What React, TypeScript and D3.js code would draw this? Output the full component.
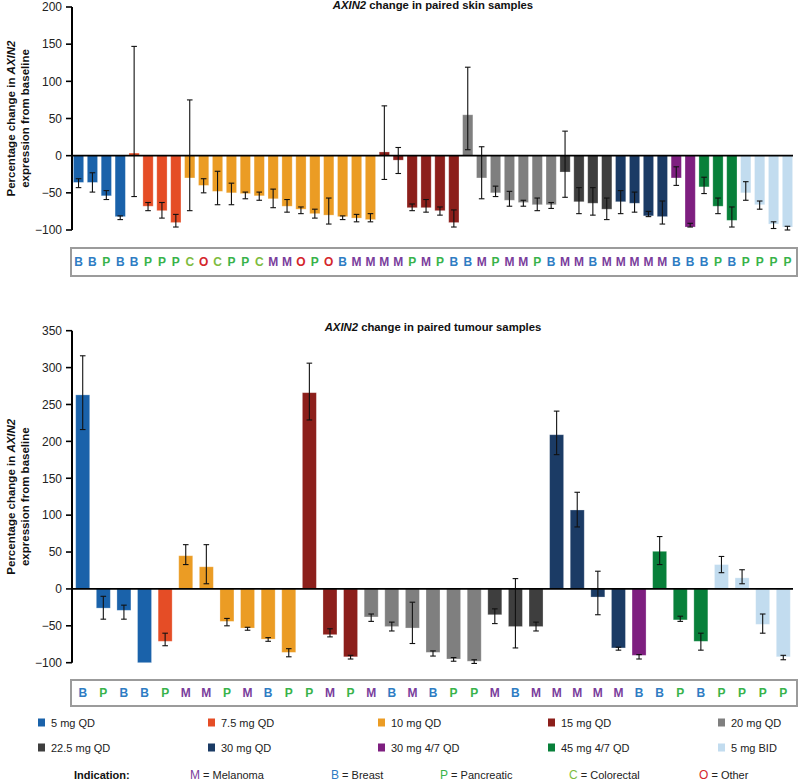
import React from "react";
import * as d3 from "d3";

// ---------- data ----------
const doseLabels = ["5 mg QD", "7.5 mg QD", "10 mg QD", "15 mg QD", "20 mg QD", "22.5 mg QD", "30 mg QD", "30 mg 4/7 QD", "45 mg 4/7 QD", "5 mg BID"];
const doseColors = ["#1a62aa", "#e54d26", "#eb9c24", "#8c1f1b", "#7f7f7f", "#3e3e3e", "#1b3b65", "#7e1f80", "#08803a", "#c2dcef"];

const indicationCodes = ["M", "B", "P", "C", "O"];
const indicationNames = ["Melanoma", "Breast", "Pancreatic", "Colorectal", "Other"];
const indicationColors = ["#7a3d9c", "#2e7cc3", "#38b34a", "#7ebc3e", "#d4262b"];

// Skin samples
const skinDose = [0,0,0,0,1,1,1,1,2,2,2,2,2,2,2,2,2,2,2,2,2,2,3,3,3,3,3,3,4,4,4,4,4,4,4,5,5,5,5,6,6,6,6,7,7,8,8,8,9,9,9,9];
const skinIndication = "BBPBBPPPCOCPPCMMOPOBMMMMPMPBBMPMMPBMMBMMMMMBBBPBPPPP".split("");
const skinValue = [-36,-36,-54,-82,3.5,-68,-74,-90,-30,-40,-48,-50,-51,-54,-58,-68,-72,-78,-80,-82,-84,-86,5,-6,-70,-70,-74,-90,55,-30,-50,-60,-63,-66,-66,-22,-62,-64,-72,-62,-64,-81,-82,-30,-96,-42,-68,-87,-50,-66,-92,-96];
const skinLow = [-43,-49,-59,-86,-55,-74,-84,-96,-74,-50,-66,-66,-58,-60,-70,-76,-78,-84,-92,-86,-89,-89,-32,-24,-74,-76,-80,-96,8,-58,-55,-68,-68,-74,-71,-56,-78,-80,-86,-78,-76,-82,-92,-40,-96,-51,-78,-96,-60,-72,-98,-100];
const skinHigh = [-31,-23,-47,-81,147,-63,-63,-79,75,-31,-21,-37,-49,-49,-45,-59,-69,-72,-57,-81,-79,-78,67,11,-65,-59,-69,-73,119,12,-41,-48,-60,-57,-63,33,-43,-43,-57,-47,-49,-75,-61,-15,-91,-29,-57,-69,-35,-61,-89,-95];
const skinTicks = [200, 150, 100, 50, 0, -50, -100];

// Tumour samples
const tumDose = [0,0,0,0,1,2,2,2,2,2,2,3,3,3,4,4,4,4,4,4,5,5,5,6,6,6,6,7,8,8,8,9,9,9,9];
const tumIndication = "BPBBPMMPMBPPMPMBMBPPMBMMMMMBBPBPPPP".split("");
const tumValue = [263,-26,-29,-100,-71,45,30,-44,-53,-68,-86,266,-62,-92,-38,-51,-53,-86,-95,-98,-35,-51,-51,209,107,-11,-80,-90,51,-42,-71,33,15,-48,-92];
const tumLow = [216,-41,-41,NaN,-77,33,7,-50,-56,-71,-92,229,-65,-95,-44,-57,-74,-91,-98,-101,-47,-80,-57,182,84,-35,-83,-95,33,-44,-83,22,7,-60,-96];
const tumHigh = [316,-10,-22,NaN,-60,60,60,-40,-52,-66,-81,306,-54,-90,-34,-45,-18,-84,-93,-96,-27,14,-45,241,131,24,-79,-89,71,-37,-60,44,26,-34,-90];
const tumTicks = [350, 300, 250, 200, 150, 100, 50, 0, -50, -100];

const FONT = "'Liberation Sans', Arial, Helvetica, sans-serif";

type PanelProps = {
  title: string;
  values: number[];
  low: number[];
  high: number[];
  dose: number[];
  indication: string[];
  ticks: number[];
  domain: [number, number];
  yRange: [number, number];
  padInner: number;
  padOuter: number;
  titleY: number;
  boxY: number;
  boxH: number;
};

function Panel(p: PanelProps) {
  const x = d3
    .scaleBand<number>()
    .domain(d3.range(p.values.length))
    .range([72, 794])
    .paddingInner(p.padInner)
    .paddingOuter(p.padOuter);
  const y = d3.scaleLinear().domain(p.domain).range(p.yRange);
  const y0 = y(0);
  const bw = x.bandwidth();
  const labelCY = (p.yRange[0] + p.yRange[1]) / 2;
  const axisX = 72;
  return (
    <g>
      {/* title */}
      <text x={433} y={p.titleY} textAnchor="middle" fontFamily={FONT} fontSize={11.3} fontWeight="bold" fill="#111">
        <tspan fontStyle="italic">AXIN2</tspan> {p.title}
      </text>
      {/* y label */}
      <text transform={`translate(15, ${labelCY}) rotate(-90)`} textAnchor="middle" fontFamily={FONT} fontSize={11.5} fontWeight="bold" fill="#111">
        Percentage change in <tspan fontStyle="italic">AXIN2</tspan>
      </text>
      <text transform={`translate(29, ${labelCY}) rotate(-90)`} textAnchor="middle" fontFamily={FONT} fontSize={11.5} fontWeight="bold" fill="#111">
        expression from baseline
      </text>
      {/* bars */}
      {p.values.map((v, i) => {
        const x0 = x(i) as number;
        const top = Math.min(y(v), y0);
        const h = Math.abs(y(v) - y0);
        return (
          <rect key={"b" + i} x={x0} y={top} width={bw} height={h} fill={doseColors[p.dose[i]]} stroke="#ffffff" strokeOpacity={0.35} strokeWidth={0.8} />
        );
      })}
      {/* error bars */}
      {p.values.map((v, i) => {
        if (isNaN(p.low[i]) || isNaN(p.high[i])) return null;
        const cx = (x(i) as number) + bw / 2;
        const ya = y(p.low[i]);
        const yb = y(p.high[i]);
        return (
          <g key={"e" + i} stroke="#111" strokeWidth={1.1}>
            <line x1={cx} x2={cx} y1={ya} y2={yb} />
            <line x1={cx - 2.8} x2={cx + 2.8} y1={ya} y2={ya} />
            <line x1={cx - 2.8} x2={cx + 2.8} y1={yb} y2={yb} />
          </g>
        );
      })}
      {/* zero line */}
      <line x1={axisX} x2={793} y1={y0} y2={y0} stroke="#000" strokeWidth={1.8} />
      {/* axis */}
      <line x1={axisX} x2={axisX} y1={y(p.ticks[0])} y2={y(p.ticks[p.ticks.length - 1])} stroke="#000" strokeWidth={2} />
      {p.ticks.map((t) => (
        <g key={"t" + t}>
          <line x1={axisX - 6} x2={axisX} y1={y(t)} y2={y(t)} stroke="#000" strokeWidth={1.6} />
          <text x={axisX - 10} y={y(t) + 4.3} textAnchor="end" fontFamily={FONT} fontSize={12} fill="#222">
            {t < 0 ? "\u2212" + Math.abs(t) : String(t)}
          </text>
        </g>
      ))}
      {/* indication box */}
      <rect x={71} y={p.boxY} width={726} height={p.boxH} fill="none" stroke="#9b9b9b" strokeWidth={2} />
      {p.indication.map((c, i) => (
        <text
          key={"l" + i}
          x={(x(i) as number) + bw / 2}
          y={p.boxY + p.boxH / 2 + 4.3}
          textAnchor="middle"
          fontFamily={FONT}
          fontSize={12}
          fontWeight="bold"
          fill={indicationColors[indicationCodes.indexOf(c)]}
        >
          {c}
        </text>
      ))}
    </g>
  );
}

const legendCols = [38, 208, 378, 548, 718];
const legendRows = [723, 748];
const indicationX = [190, 331, 440, 569, 699];

export default function App() {
  return (
    <svg width={799} height={782} style={{ position: "absolute", left: 0, top: 0, background: "#fff" }}>
      <rect x={0} y={0} width={799} height={782} fill="#fff" />
      <Panel
        title="change in paired skin samples"
        values={skinValue}
        low={skinLow}
        high={skinHigh}
        dose={skinDose}
        indication={skinIndication}
        ticks={skinTicks}
        domain={[-100, 200]}
        yRange={[230, 7]}
        padInner={0.26}
        padOuter={0.1}
        titleY={9}
        boxY={248}
        boxH={28}
      />
      <Panel
        title="change in paired tumour samples"
        values={tumValue}
        low={tumLow}
        high={tumHigh}
        dose={tumDose}
        indication={tumIndication}
        ticks={tumTicks}
        domain={[-100, 350]}
        yRange={[662.7, 330.7]}
        padInner={0.32}
        padOuter={0.18}
        titleY={331}
        boxY={680}
        boxH={26}
      />
      {/* dose legend */}
      {doseLabels.map((lab, i) => {
        const cx = legendCols[i % 5];
        const cy = legendRows[Math.floor(i / 5)];
        return (
          <g key={"lg" + i}>
            <rect x={cx} y={cy - 4.5} width={7} height={8} fill={doseColors[i]} />
            <text x={cx + 13} y={cy + 4} fontFamily={FONT} fontSize={11} fill="#222">
              {lab}
            </text>
          </g>
        );
      })}
      {/* indication legend */}
      <text x={74} y={778.5} fontFamily={FONT} fontSize={11} fontWeight="bold" fill="#111">
        Indication:
      </text>
      {indicationCodes.map((c, i) => (
        <text key={"ind" + i} x={indicationX[i]} y={778.5} fontFamily={FONT} fontSize={11} fill="#222">
          <tspan fill={indicationColors[i]} fontSize={12}>{c}</tspan> = {indicationNames[i]}
        </text>
      ))}
    </svg>
  );
}
